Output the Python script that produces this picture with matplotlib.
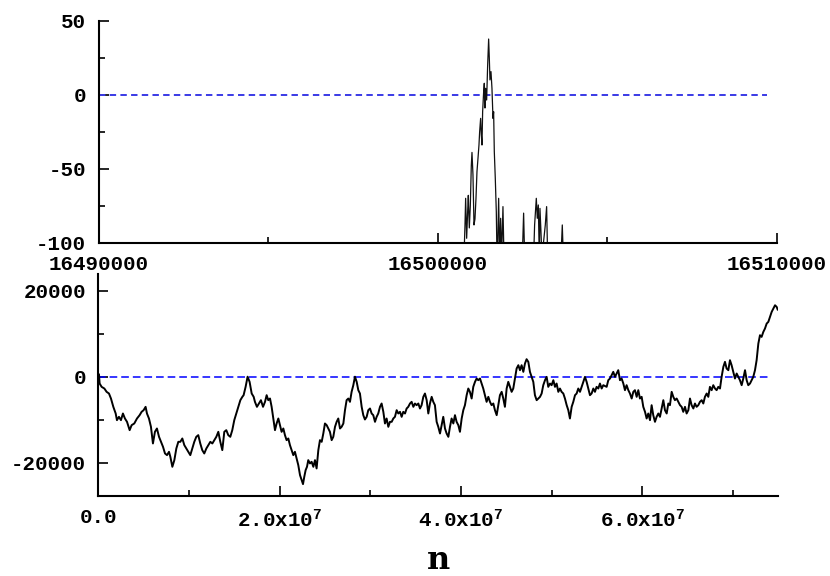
#!/usr/bin/env python3
"""
Two-panel walk plot: zoom around n = 1.65e7 on top, full run below.
"""

import matplotlib
matplotlib.use("Agg")
import matplotlib.pyplot as plt
from matplotlib.ticker import FixedLocator, FuncFormatter

# ---- top panel: zoomed window (values below -100 fall off the axis) ----
zoom_n = [16500772, 16500802, 16500821, 16500851, 16500880, 16500900, 16500929, 16500959,
          16500988, 16501008, 16501037, 16501067, 16501096, 16501126, 16501155, 16501185,
          16501214, 16501234, 16501263, 16501283, 16501303, 16501322, 16501352, 16501371,
          16501391, 16501411, 16501440, 16501470, 16501499, 16501519, 16501538, 16501568,
          16501597, 16501627, 16501646, 16501666, 16501695, 16501725, 16501745, 16501764,
          16501794, 16501823, 16501853, 16501882, 16501921, 16501951, 16502491, 16502530,
          16502560, 16502825, 16502854, 16502904, 16502933, 16502963, 16502992, 16503012,
          16503041, 16503071, 16503169, 16503208, 16503238, 16503630, 16503670, 16503700]
zoom_val = [-110, -88, -70, -97, -79, -68, -90, -75,
            -48, -39, -54, -88, -84, -70, -52, -43,
            -34, -25, -16, -27, -34, -11.5, 2, 7.7,
            -9, 4.3, -3.6, 20, 37.6, 24.6, 10, 15.6,
            4.3, -16, -11.5, -38.5, -56.5, -79, -110, -105,
            -70, -110, -83.5, -110, -75.6, -110, -110, -80,
            -110, -110, -88, -70, -83.5, -74.5, -110, -76.8,
            -92.5, -110, -88, -75.6, -110, -110, -88, -110]

# ---- bottom panel: whole run, n in millions ----
full_n_millions = [
    0.08, 0.15, 0.37, 0.67, 0.92, 1.18, 1.40, 1.66, 1.92, 2.06, 2.28, 2.50, 2.72, 2.94, 3.17,
    3.46, 3.68, 3.97, 4.27, 4.56, 4.78, 5.00, 5.22, 5.37, 5.59, 5.81, 6.03, 6.25, 6.47, 6.70,
    6.92, 7.14, 7.36, 7.58, 7.80, 7.95, 8.17, 8.39, 8.61, 8.83, 9.05, 9.27, 9.49, 9.71, 9.93,
    10.15, 10.37, 10.59, 10.81, 11.03, 11.25, 11.47, 11.69, 11.92, 12.14, 12.36, 12.58, 12.80,
    13.02, 13.24, 13.46, 13.68, 13.90, 14.12, 14.34, 14.56, 14.78, 15.00, 15.22, 15.44, 15.67,
    15.89, 16.03, 16.25, 16.47, 16.69, 16.92, 17.14, 17.28, 17.50, 17.72, 17.94, 18.17, 18.39,
    18.57, 18.75, 18.94, 19.12, 19.30, 19.49, 19.67, 19.86, 20.04, 20.22, 20.41, 20.59, 20.77,
    20.96, 21.14, 21.33, 21.51, 21.69, 21.88, 22.06, 22.25, 22.43, 22.58, 22.72, 22.87, 23.02,
    23.16, 23.35, 23.53, 23.72, 23.90, 24.08, 24.27, 24.45, 24.64, 24.82, 25.00, 25.19, 25.37,
    25.55, 25.74, 25.92, 26.11, 26.29, 26.47, 26.66, 26.84, 27.03, 27.21, 27.39, 27.58, 27.76,
    27.94, 28.13, 28.31, 28.50, 28.68, 28.86, 29.05, 29.23, 29.41, 29.60, 29.78, 29.97, 30.15,
    30.33, 30.52, 30.70, 30.88, 31.07, 31.25, 31.44, 31.62, 31.80, 31.99, 32.17, 32.36, 32.54,
    32.72, 32.91, 33.09, 33.28, 33.46, 33.64, 33.83, 34.01, 34.19, 34.38, 34.56, 34.75, 34.93,
    35.11, 35.30, 35.48, 35.66, 35.85, 36.03, 36.22, 36.40, 36.58, 36.77, 36.95,
    37.13, 37.32, 37.50, 37.69, 37.87, 38.05, 38.24, 38.42, 38.61, 38.79, 38.97, 39.16, 39.34,
    39.52, 39.71, 39.89, 40.08, 40.26, 40.44, 40.63, 40.81, 40.99, 41.18, 41.36, 41.55, 41.73,
    41.91, 42.10, 42.28, 42.46, 42.65, 42.83, 43.02, 43.20, 43.38, 43.57, 43.75, 43.94, 44.12,
    44.30, 44.49, 44.67, 44.85, 45.04, 45.22, 45.41, 45.59, 45.77, 45.96, 46.14, 46.33, 46.51,
    46.69, 46.88, 47.06, 47.24, 47.43, 47.61, 47.80, 47.98, 48.16, 48.35, 48.53, 48.72, 48.90,
    49.08, 49.27, 49.45, 49.63, 49.82, 50.00, 50.19, 50.37, 50.55, 50.74, 50.92, 51.10, 51.29,
    51.47, 51.66, 51.84, 52.02, 52.21, 52.39, 52.58, 52.76, 52.94, 53.13, 53.31, 53.49, 53.68,
    53.86, 54.05, 54.23, 54.41, 54.60, 54.78, 54.96, 55.15, 55.33, 55.52, 55.70,
    56.07, 56.25, 56.44, 56.62, 56.80, 56.99, 57.17, 57.35, 57.54, 57.72, 57.91, 58.09, 58.27,
    58.46, 58.64, 58.83, 59.01, 59.19, 59.38, 59.56, 59.74, 59.93, 60.11, 60.30, 60.48, 60.66,
    60.85, 61.03, 61.21, 61.40, 61.58, 61.77, 61.95, 62.13, 62.32, 62.50, 62.69, 62.87, 63.05,
    63.24, 63.42, 63.60, 63.79, 63.97, 64.16, 64.34, 64.52, 64.71, 64.89, 65.08, 65.26, 65.44,
    65.63, 65.81, 65.99, 66.18, 66.36, 66.55, 66.73, 66.91, 67.10, 67.28, 67.46, 67.65, 67.83,
    68.02, 68.20, 68.38, 68.57, 68.75, 68.94, 69.12, 69.30, 69.49, 69.67, 69.85, 70.04, 70.22,
    70.41, 70.59, 70.77, 70.96, 71.14, 71.33, 71.51, 71.69, 71.88, 72.06, 72.24, 72.43, 72.61,
    72.80, 72.98, 73.16, 73.35, 73.53, 73.72, 73.90, 74.08, 74.27, 74.45, 74.64, 74.82, 74.93]
full_val = [
    500, -1589, -2364, -2752, -3527, -3915, -5078, -7016, -8567, -10117, -9342, -10117, -8567,
    -9730, -10505, -12443, -11280, -10893, -9730, -8954, -8179, -7792, -7016, -8567, -9730,
    -11668, -15545, -12831, -12056, -13994, -15157, -16320, -17870, -18258, -17482, -18645,
    -20972, -19421, -16707, -15157, -15157, -14382, -15932, -16707, -17482, -18258, -16707,
    -15157, -13994, -13606, -15545, -17095, -17870, -16707, -15932, -15157, -15545, -14769,
    -13994, -12831, -15157, -17095, -12831, -12443, -13606, -13994, -12443, -10117, -8567,
    -7016, -5466, -4690, -4303, -2364, 0, -1201, -3915, -4690, -5853, -7016, -6241, -5466,
    -7016, -5853,
    -4303, -5466, -5078, -7016, -9730, -12443, -10893, -9730, -11280, -12831, -12056, -13606,
    -14769, -14382, -15932, -17095, -18258, -17482, -19033, -20584, -22910, -24073, -25003,
    -23298, -21747, -20972, -19421, -20196, -19809, -20972, -19421, -21359, -17095, -14769,
    -15157, -13219, -10893, -11280, -12056, -12831, -14769, -13994, -11668, -10505, -9730,
    -12056, -11668, -10893, -7792, -5466, -5078, -5853, -3527, -1977, 0, -1201, -3140, -3915,
    -7016, -8954, -9962, -9342, -7792, -7404, -8567, -8954, -10505, -9342, -8567, -7016,
    -6241, -8179, -10893, -9730, -11668, -10505, -10505, -9730, -9342, -7792, -8567, -8179,
    -9342, -8179, -8567, -7404, -7016, -6241, -5853, -7016, -6241, -6628, -6241, -7404,
    -6628, -4690, -3915, -5466, -8567, -6241, -4690, -5853,
    -6629, -10505, -11668, -13219, -11280, -9342, -12056, -13219, -13994, -11668,
    -9730, -10893, -8954, -10505, -11280, -12831, -9730, -7791, -6629, -4303,
    -2752, -3527, -5078, -2364, -1201, -426, -814, -426, -1589, -2752,
    -4303, -5853, -4690, -5853, -6629, -6241, -7791, -8954, -6629, -4303,
    -3527, -5078, -7016, -2752, -1201, -2364, -3527, -2752, -426, 1900,
    2675, 1512, 2675, 1124, 3063, 4071, 3450, 1124, -38, -1201,
    -4303, -5466, -5078, -4690, -3915, -1977, -814, -38, -2364, -1589,
    -1977, -814, -2364, -1589, -3527, -2752, -3527, -3915, -5078, -6629,
    -7791, -9730, -7016, -5853, -4303, -3915, -2752, -3527, -2364, -1201,
    -38, -1201, -2752, -4303, -3915, -2752, -3527, -2364, -2752, -1589,
    -2752, -1977,
    -2364, -813, -425, 350, 1125, -38, 737, 1513, -813, -425, -1588, -3139, -1976, -3139,
    -3914, -5077, -3527, -3139, -4690, -3139, -5077, -4690, -7016, -8178, -9729, -8566,
    -10117, -6628, -8954, -10504, -9341, -8566, -9341, -7403, -5465, -7791, -8566, -6240,
    -6628, -3527, -4690, -5465, -5077, -5853, -6628, -7016, -8178, -7016, -8566, -7791,
    -5077, -6628, -7403, -6240, -7016, -6628, -5853, -5465, -6240, -4690, -3914, -4690,
    -2364, -3139, -1976, -2751, -3139, -2364, -2751, -38, 2288, 3451, 1901, 1513, 3839,
    2676, 1125, -425, 737, -38, -813, -1976, -425, 1513, -813, -1976, -1588, -813, -38,
    1513, 3839, 7715, 9654, 9266, 10429, 11204, 12367, 12755, 13918, 15081, 15856, 16631,
    16244, 15624]

# zero reference lines and axis ranges
top_zero_span = [16490000, 16509700]
bottom_zero_span = [0, 7.4e7]
top_xlim = (16490000, 16510000)
top_ylim = (-100, 50)
bottom_xlim = (0, 7.5e7)
bottom_ylim = (-27700, 23900)

plt.rcParams["font.family"] = ["Liberation Mono", "DejaVu Sans Mono"]
plt.rcParams["font.weight"] = "bold"
plt.rcParams["axes.unicode_minus"] = False
plt.rcParams["mathtext.fontset"] = "custom"
plt.rcParams["mathtext.rm"] = "Liberation Mono:bold"
plt.rcParams["mathtext.it"] = "Liberation Mono:bold"
plt.rcParams["mathtext.bf"] = "Liberation Mono:bold"


def style_axes(ax):
    for side in ("top", "right"):
        ax.spines[side].set_visible(False)
    for side in ("left", "bottom"):
        ax.spines[side].set_linewidth(1.5)
    ax.tick_params(which="both", direction="in", width=1.2, top=False, right=False)
    ax.tick_params(which="major", length=7, pad=9, labelsize=15)
    ax.tick_params(which="minor", length=4)


def sci_label(v, pos):
    if v == 0:
        return "0.0"
    return f"{v / 1e7:.1f}x10$^{{7}}$"


fig = plt.figure(figsize=(8.3, 5.76), dpi=100)

# Top panel
ax1 = fig.add_axes([0.1187, 0.5786, 0.8175, 0.3855])
ax1.plot(top_zero_span, [0, 0], color="#3a3ae6", linewidth=1.4, linestyle=(0, (3.3, 2.2)))
ax1.plot(zoom_n, zoom_val, color="#111111", linewidth=0.9)
ax1.set_xlim(*top_xlim)
ax1.set_ylim(*top_ylim)
ax1.xaxis.set_major_locator(FixedLocator([16490000, 16500000, 16510000]))
ax1.xaxis.set_minor_locator(FixedLocator([16495000, 16505000]))
ax1.yaxis.set_major_locator(FixedLocator([-100, -50, 0, 50]))
ax1.yaxis.set_minor_locator(FixedLocator([-75, -25, 25]))
ax1.xaxis.set_major_formatter(FuncFormatter(lambda v, p: f"{int(round(v))}"))
ax1.yaxis.set_major_formatter(FuncFormatter(lambda v, p: f"{int(round(v))}"))
style_axes(ax1)

# Bottom panel
ax2 = fig.add_axes([0.1184, 0.1394, 0.8193, 0.3849])
ax2.plot(bottom_zero_span, [0, 0], color="blue", linewidth=1.1, linestyle=(0, (5, 2.6)))
ax2.plot([v * 1e6 for v in full_n_millions], full_val, color="black", linewidth=1.4)
ax2.set_xlim(*bottom_xlim)
ax2.set_ylim(*bottom_ylim)
ax2.xaxis.set_major_locator(FixedLocator([0, 2e7, 4e7, 6e7]))
ax2.xaxis.set_minor_locator(FixedLocator([1e7, 3e7, 5e7, 7e7]))
ax2.yaxis.set_major_locator(FixedLocator([-20000, 0, 20000]))
ax2.yaxis.set_minor_locator(FixedLocator([-10000, 10000]))
ax2.xaxis.set_major_formatter(FuncFormatter(sci_label))
ax2.yaxis.set_major_formatter(FuncFormatter(lambda v, p: f"{int(round(v))}"))
style_axes(ax2)

fig.text(0.528, 0.012, "n", ha="center", va="baseline",
         family="DejaVu Serif", fontweight="bold", fontsize=23)

fig.savefig("out.png", dpi=100)
print("Saved plot to out.png")
